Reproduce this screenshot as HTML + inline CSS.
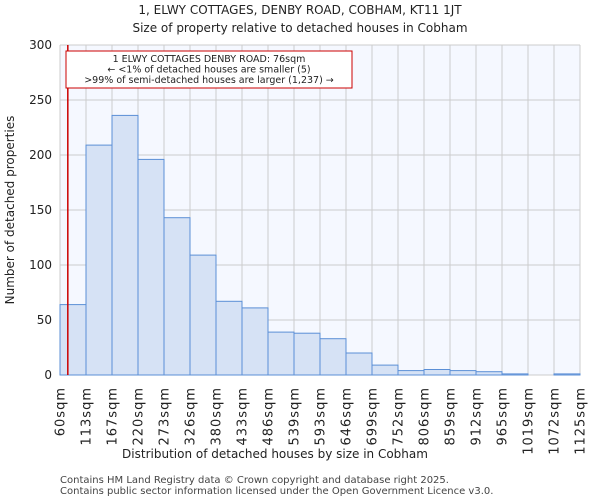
<!DOCTYPE html>
<html><head><meta charset="utf-8"><style>
body{margin:0;background:#fff;font-family:"DejaVu Sans","Liberation Sans",sans-serif;}
</style></head><body>
<svg id="chart" width="600" height="500" xmlns="http://www.w3.org/2000/svg" font-family="DejaVu Sans, Liberation Sans, sans-serif">
<text x="300" y="14" font-size="12" text-anchor="middle" fill="#222">1, ELWY COTTAGES, DENBY ROAD, COBHAM, KT11 1JT</text>
<text x="300" y="32" font-size="12" text-anchor="middle" fill="#222">Size of property relative to detached houses in Cobham</text>
<rect x="60" y="45" width="520" height="330" fill="#f5f8ff"/>
<g id="grid"></g><g id="bars"></g><g id="axes"></g>
<text x="275" y="458" font-size="12" text-anchor="middle" fill="#222">Distribution of detached houses by size in Cobham</text>
<text transform="translate(14,210) rotate(-90)" font-size="12" text-anchor="middle" fill="#222">Number of detached properties</text>
<text x="60" y="483" font-size="10" fill="#444">Contains HM Land Registry data © Crown copyright and database right 2025.</text>
<text x="60" y="494" font-size="10" fill="#444">Contains public sector information licensed under the Open Government Licence v3.0.</text>
</svg>
<script>
const categories=["60sqm","113sqm","167sqm","220sqm","273sqm","326sqm","380sqm","433sqm","486sqm","539sqm","593sqm","646sqm","699sqm","752sqm","806sqm","859sqm","912sqm","965sqm","1019sqm","1072sqm","1125sqm"];
const counts=[64,209,236,196,143,109,67,61,39,38,33,20,9,4,5,4,3,1,0,1];
const yTicks=[0,50,100,150,200,250,300];
const propertySize=76;
const binStart=60, binWidth=53.25;
const NS="http://www.w3.org/2000/svg";
const X0=60,X1=580,Y0=375,Y1=45,YMAX=300;
const bw=(X1-X0)/counts.length;
const xs=i=>X0+i*bw;
const ys=v=>Y0-(v/YMAX)*(Y0-Y1);
function mk(t,a,p){const e=document.createElementNS(NS,t);for(const k in a)e.setAttribute(k,a[k]);p.appendChild(e);return e;}
const g=document.getElementById('grid'),b=document.getElementById('bars'),ax=document.getElementById('axes');
yTicks.forEach(v=>{
 const l=mk('line',{x1:X0,x2:X1,y1:ys(v),y2:ys(v),stroke:'#ccc','stroke-width':1},g);
 
 
 const t=mk('text',{x:X0-8,y:ys(v)+4,'font-size':12,'text-anchor':'end',fill:'#222'},ax);
 t.textContent=v;
 
 
});
categories.forEach((c,i)=>{
 const x=xs(i);
 const l=mk('line',{x1:x,x2:x,y1:Y1,y2:Y0,stroke:'#ccc','stroke-width':1},g);
 
 
 const t=mk('text',{transform:`translate(${x+4.5},${Y0+12}) rotate(-90)`,'font-size':13,'letter-spacing':1,'text-anchor':'end',fill:'#222'},ax);
 t.textContent=c;
 
 
});
counts.forEach((v,i)=>{
 const r=mk('rect',{x:xs(i),y:ys(v),width:bw,height:Y0-ys(v),fill:'#d6e2f5',stroke:'#5b8fd6','stroke-width':1},b);
 
 
});
const rx=X0+(propertySize-binStart)/binWidth*bw;
const ml=mk('line',{x1:rx,x2:rx,y1:Y1,y2:Y0,stroke:'#cc0000','stroke-width':1.5},ax);


const box=mk('rect',{x:66,y:51,width:286,height:37,fill:'#fff',stroke:'#cc0000','stroke-width':1},ax);


["1 ELWY COTTAGES DENBY ROAD: 76sqm","← <1% of detached houses are smaller (5)",">99% of semi-detached houses are larger (1,237) →"].forEach((s,i)=>{
 const t=mk('text',{x:209,y:62+i*10.5,'font-size':9.5,'text-anchor':'middle',fill:'#222'},ax);
 t.textContent=s;
 
 
});
</script>
</body></html>
